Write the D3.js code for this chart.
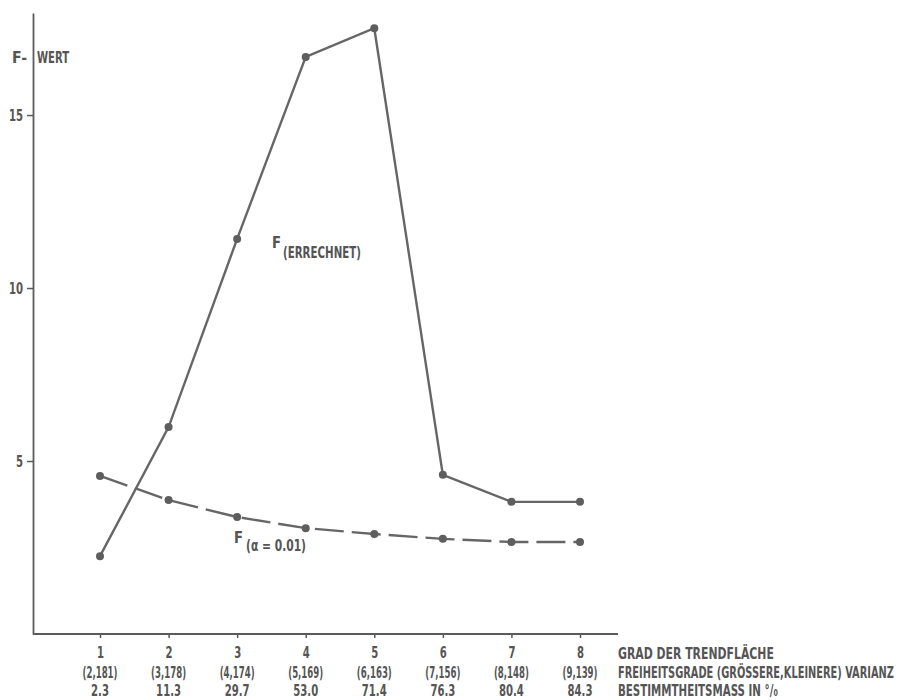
<!DOCTYPE html>
<html>
<head>
<meta charset="utf-8">
<script src="https://cdn.jsdelivr.net/npm/d3@7"></script>
<style>
  body { margin: 0; background: #fff; }
  svg text { font-family: "DejaVu Sans Condensed", "DejaVu Sans", sans-serif; font-weight: bold; fill: #555; }
</style>
</head>
<body>
<svg id="chart" width="900" height="700"></svg>
<script>
// data
var grad = [1, 2, 3, 4, 5, 6, 7, 8]
var freiheitsgrade = ["(2,181)", "(3,178)", "(4,174)", "(5,169)", "(6,163)", "(7,156)", "(8,148)", "(9,139)"]
var bestimmtheit = ["2.3", "11.3", "29.7", "53.0", "71.4", "76.3", "80.4", "84.3"]
var fErrechnet = [2.25, 5.98, 11.42, 16.68, 17.51, 4.6, 3.82, 3.82]
var fAlpha = [4.57, 3.87, 3.38, 3.06, 2.89, 2.75, 2.66, 2.66]
var yTicks = [5, 10, 15]

var svg = d3.select("#chart")
var ink = "#5a5a5a"
var fs = 16.5

// squeeze text horizontally so it looks like the narrow print font
function narrow(sel, f)
{
    sel.each(function() {
        var len = this.getComputedTextLength()
        d3.select(this).attr("textLength", len * (f || 0.68)).attr("lengthAdjust", "spacingAndGlyphs")
    })
}

var x = d3.scaleLinear().domain([1, 8]).range([100, 580])
var y = d3.scaleLinear().domain([0, 17.95]).range([634, 13])

// y axis
var yAxis = svg.append("g")
    .attr("transform", "translate(33,0)")
    .call(d3.axisLeft(y).tickValues(yTicks).tickSize(6).tickSizeOuter(0).tickPadding(4))
yAxis.select(".domain").attr("stroke", ink).attr("stroke-width", 1.8)
yAxis.selectAll(".tick line").attr("stroke", ink).attr("stroke-width", 1.5)
yAxis.selectAll(".tick text").attr("font-size", fs).attr("font-family", null).attr("fill", null)
narrow(yAxis.selectAll(".tick text"))

// x axis line + ticks
svg.append("line")
    .attr("x1", 33).attr("x2", 618)
    .attr("y1", y(0)).attr("y2", y(0))
    .attr("stroke", ink).attr("stroke-width", 1.8)

var xAxis = svg.append("g")
    .attr("transform", "translate(0," + y(0) + ")")
    .call(d3.axisBottom(x).tickValues(grad).tickSize(4).tickPadding(8).tickFormat(d3.format("d")))
xAxis.select(".domain").remove()
xAxis.selectAll(".tick line").attr("stroke", ink).attr("stroke-width", 1.5)
xAxis.selectAll(".tick text").attr("font-size", fs).attr("font-family", null).attr("fill", null)
narrow(xAxis.selectAll(".tick text"))

// second and third label rows
svg.selectAll(".fg")
    .data(grad)
    .enter()
    .append("text")
    .attr("class", "fg")
    .attr("x", function(d) { return x(d) })
    .attr("y", 678)
    .attr("text-anchor", "middle")
    .attr("font-size", fs)
    .attr("textLength", 35)
    .attr("lengthAdjust", "spacingAndGlyphs")
    .text(function(d, i) { return freiheitsgrade[i] })

var bm = svg.selectAll(".bm")
    .data(grad)
    .enter()
    .append("text")
    .attr("class", "bm")
    .attr("x", function(d) { return x(d) })
    .attr("y", 696)
    .attr("text-anchor", "middle")
    .attr("font-size", fs)
    .text(function(d, i) { return bestimmtheit[i] })
narrow(bm)

// row captions at the right, squeezed with a scale so the box stays inside
var captions = [
    {t: "GRAD DER TRENDFLÄCHE", y: 659, w: 156},
    {t: "FREIHEITSGRADE (GRÖSSERE,KLEINERE) VARIANZ", y: 678, w: 276},
    {t: "BESTIMMTHEITSMASS IN °/\u2080", y: 696, w: 160}
]
svg.selectAll(".cap")
    .data(captions)
    .enter()
    .append("text")
    .attr("class", "cap")
    .attr("font-size", fs)
    .text(function(d) { return d.t })
    .attr("transform", function(d) {
        var len = this.getComputedTextLength()
        return "translate(618," + d.y + ") scale(" + (d.w / len) + ",1)"
    })

// axis title
svg.append("text").attr("x", 12).attr("y", 63).attr("font-size", fs)
    .attr("textLength", 15).attr("lengthAdjust", "spacingAndGlyphs").text("F-")
svg.append("text").attr("x", 37).attr("y", 63).attr("font-size", fs)
    .attr("textLength", 32).attr("lengthAdjust", "spacingAndGlyphs").text("WERT")

// lines
var line = d3.line()
    .x(function(d, i) { return x(grad[i]) })
    .y(function(d) { return y(d) })

svg.append("path")
    .attr("d", line(fErrechnet))
    .attr("fill", "none")
    .attr("stroke", "#666")
    .attr("stroke-width", 2.4)

svg.append("path")
    .attr("d", line(fAlpha))
    .attr("fill", "none")
    .attr("stroke", "#666")
    .attr("stroke-width", 2.4)
    .attr("stroke-dasharray", "29,8")

svg.selectAll(".pe")
    .data(fErrechnet)
    .enter()
    .append("circle")
    .attr("class", "pe")
    .attr("cx", function(d, i) { return x(grad[i]) })
    .attr("cy", function(d) { return y(d) })
    .attr("r", 4)
    .attr("fill", "#5e5e5e")

svg.selectAll(".pa")
    .data(fAlpha)
    .enter()
    .append("circle")
    .attr("class", "pa")
    .attr("cx", function(d, i) { return x(grad[i]) })
    .attr("cy", function(d) { return y(d) })
    .attr("r", 4)
    .attr("fill", "#5e5e5e")

// series labels
svg.append("text").attr("x", 272).attr("y", 248).attr("font-size", fs)
    .attr("textLength", 9).attr("lengthAdjust", "spacingAndGlyphs").text("F")
svg.append("text").attr("x", 283).attr("y", 258).attr("font-size", 15)
    .attr("textLength", 78).attr("lengthAdjust", "spacingAndGlyphs").text("(ERRECHNET)")

svg.append("text").attr("x", 234).attr("y", 543).attr("font-size", fs)
    .attr("textLength", 9).attr("lengthAdjust", "spacingAndGlyphs").text("F")
svg.append("text").attr("x", 246).attr("y", 551).attr("font-size", 15)
    .attr("textLength", 60).attr("lengthAdjust", "spacingAndGlyphs").text("(α = 0.01)")
</script>
</body>
</html>
